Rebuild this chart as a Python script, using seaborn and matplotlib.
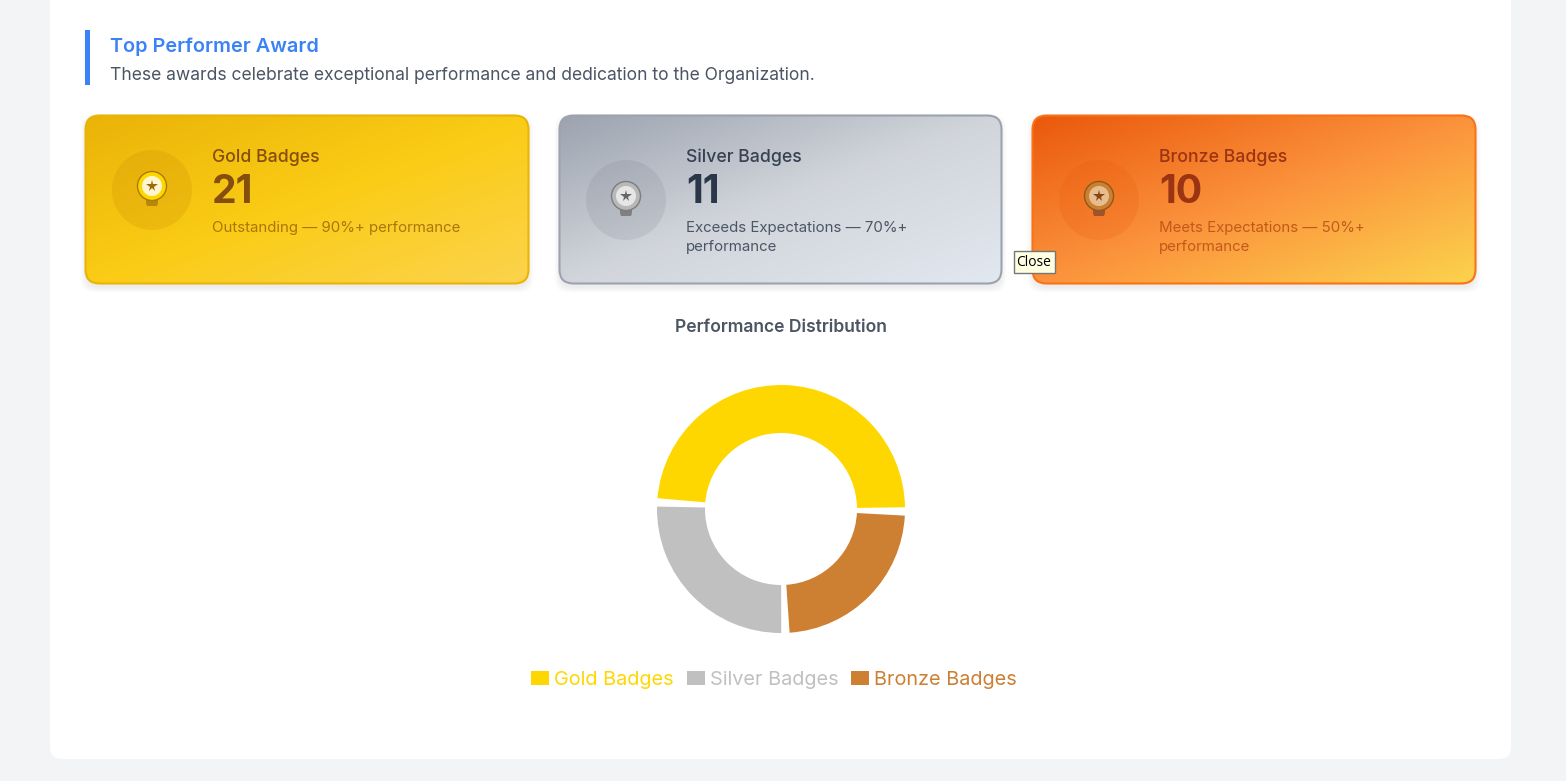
import numpy as np
import matplotlib.pyplot as plt
from matplotlib.colors import LinearSegmentedColormap
from matplotlib.patches import Circle, FancyBboxPatch, Polygon, Rectangle
import seaborn as sns

# data
badge_names = ['Gold Badges', 'Silver Badges', 'Bronze Badges']
badge_counts = [21, 11, 10]
badge_notes = ['Outstanding — 90%+ performance',
               'Exceeds Expectations — 70%+\nperformance',
               'Meets Expectations — 50%+\nperformance']
badge_colors = ['#FFD700', '#C0C0C0', '#CD7F32']

# card styles
card_left = [85.5, 559.5, 1032.5]
card_right = [528.5, 1001.5, 1475.5]
card_stops = [['#eab308', '#facc15', '#fcd34d'],
              ['#9ca3af', '#d1d5db', '#e2e8f0'],
              ['#ea580c', '#fb923c', '#fcd34d']]
card_border = ['#eab308', '#9ca3af', '#f97316']
label_color = ['#854d0e', '#374151', '#9a3412']
count_color = ['#854d0e', '#2b3648', '#9a3412']
note_color = ['#a9760b', '#4b5563', '#c2591b']
icon_y = [190, 200, 200]
halo_color = ['#ca8a04', '#6b7280', '#ea580c']
halo_alpha = [0.22, 0.14, 0.2]
icon_colors = [['#a87b05', '#ffd700', '#fff6cf', '#9a6a10', '#b8860b'],
               ['#7d7d7d', '#b8b8b8', '#e6e6e6', '#666666', '#808080'],
               ['#8b5a1b', '#cd7f32', '#e6bd8f', '#8b4513', '#a0522d']]

sns.set_theme(style='white')
plt.rcParams['font.family'] = ['Inter', 'DejaVu Sans']

W, H = 1566, 781
fig = plt.figure(figsize=(W / 100, H / 100), dpi=100, facecolor='#f3f4f6')
ax = fig.add_axes([0, 0, 1, 1])
ax.axis('off')

# white page panel
ax.add_patch(FancyBboxPatch((50, -40), 1461, 799, boxstyle='round,pad=0,rounding_size=12',
                            fc='white', ec='none'))

# header
ax.add_patch(Rectangle((85, 30), 5, 55, fc='#3b82f6', ec='none'))
ax.text(110, 47, 'Top Performer Award', fontsize=14.3, fontweight='semibold', color='#3b82f6', va='center')
ax.text(110, 75, 'These awards celebrate exceptional performance and dedication to the Organization.',
        fontsize=12.6, color='#4b5563', va='center')

# cards
top, bottom = 115.5, 283.5
for i in range(3):
    x0, x1 = card_left[i], card_right[i]
    w, h = x1 - x0, bottom - top

    # soft shadow
    for k in range(6):
        ax.add_patch(FancyBboxPatch((x0 - k, top + 4 - k), w + 2 * k, h + 2 * k,
                                    boxstyle='round,pad=0,rounding_size=14',
                                    fc='black', ec='none', alpha=0.012))

    # gradient fill corner to corner
    xx, yy = np.meshgrid(np.linspace(-w / 2, w / 2, 300), np.linspace(-h / 2, h / 2, 120))
    t = 0.5 + (xx * h + yy * w) / (2 * w * h)
    cmap = LinearSegmentedColormap.from_list('card', card_stops[i])
    img = ax.imshow(t, cmap=cmap, vmin=0, vmax=1, extent=(x0, x1, bottom, top), aspect='auto', zorder=2)
    box = FancyBboxPatch((x0, top), w, h, boxstyle='round,pad=0,rounding_size=14',
                         fc='none', ec=card_border[i], lw=1.5, zorder=3)
    ax.add_patch(box)
    img.set_clip_path(box)

    # medal icon
    cx, cy = round(x0 + 66.5), icon_y[i]
    ring, fill, inner, star, base = icon_colors[i]
    ax.add_patch(Circle((cx, cy), 40, fc=halo_color[i], ec='none', alpha=halo_alpha[i], zorder=4))
    ax.add_patch(Polygon([(cx - 6, cy + 6), (cx + 6, cy + 6), (cx + 6, cy + 13), (cx + 5, cy + 16), (cx - 5, cy + 16), (cx - 6, cy + 13)],
                         fc=base, ec='none', zorder=4))
    ax.add_patch(Circle((cx, cy - 4), 14.5, fc=fill, ec=ring, lw=1, zorder=5))
    ax.add_patch(Circle((cx, cy - 4), 10, fc=inner, ec='none', zorder=6))
    ax.plot([cx], [cy - 4], marker='*', ms=8.5, color=star, mew=0, zorder=7)

    # card text
    tx = x0 + 126.5
    ax.text(tx, 157, badge_names[i], fontsize=12.7, fontweight='medium', color=label_color[i], va='center', zorder=8)
    ax.text(tx, 192.5, str(badge_counts[i]), fontsize=28.2, fontweight='bold', color=count_color[i], va='center', zorder=8)
    ax.text(tx, 221, badge_notes[i], fontsize=10.8, color=note_color[i], va='top', linespacing=1.5, zorder=8)

# tooltip on top of the bronze card
ax.add_patch(Rectangle((1013.5, 250.5), 41, 22, fc='#ffffe1', ec='#767676', lw=1, zorder=9))
ax.text(1034, 262, 'Close', fontsize=10, family='Open Sans', color='black', ha='center', va='center', zorder=10)

ax.text(780.5, 328, 'Performance Distribution', fontsize=12.6, fontweight='semibold', color='#4b5563',
        ha='center', va='center')

ax.set_xlim(0, W)
ax.set_ylim(H, 0)

# donut, the gaps are thin empty slices between the badges
R = 124
ax_pie = fig.add_axes([(781 - R) / W, 1 - (509 + R) / H, 2 * R / W, 2 * R / H])
gap = sum(badge_counts) * 0.0111
sizes = []
colors = []
for count, color in zip(badge_counts, sns.color_palette(badge_colors)):
    sizes += [count, gap]
    colors += [color, 'none']
wedges, _ = ax_pie.pie(sizes, colors=colors, startangle=0.8, counterclock=True, radius=1,
                       wedgeprops={'width': 48 / R, 'linewidth': 0})
ax_pie.set_xlim(-1, 1)
ax_pie.set_ylim(-1, 1)

fig.legend(wedges[::2], badge_names, loc='center', bbox_to_anchor=(774 / W, 1 - 680 / H), ncol=3,
           frameon=False, fontsize=14.3, labelcolor=badge_colors, handlelength=0.9, handleheight=0.7,
           handletextpad=0.25, columnspacing=0.65, borderpad=0)

fig.savefig('out.png', dpi=100, facecolor=fig.get_facecolor())
